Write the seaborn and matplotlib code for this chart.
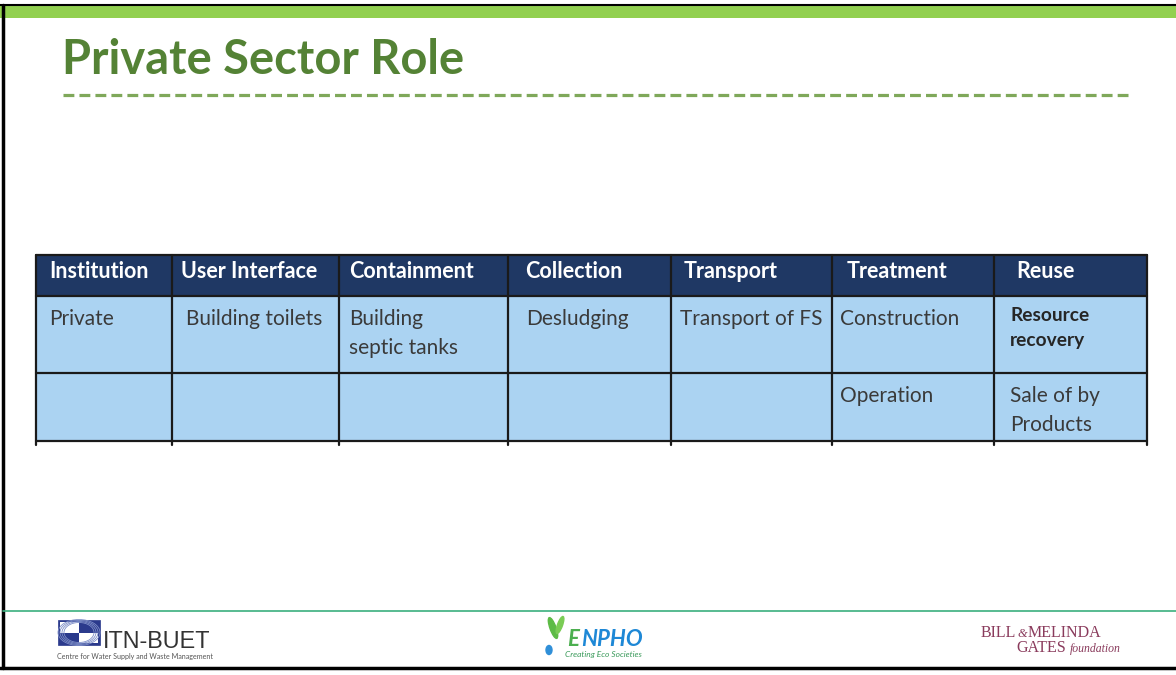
import matplotlib
matplotlib.use("Agg")
import matplotlib.pyplot as plt
from matplotlib.patches import Rectangle, Ellipse
import seaborn as sns

# ---- data ----
title = "Private Sector Role"
columns = ["Institution", "User Interface", "Containment", "Collection",
           "Transport", "Treatment", "Reuse"]
row1 = ["Private", "Building toilets", "Building\nseptic tanks", "Desludging",
        "Transport of FS", "Construction", "Resource\nrecovery"]
row2 = ["", "", "", "", "", "Operation", "Sale of by\nProducts"]
rows = [row1, row2]

# ---- layout (pixels) ----
W, H = 1176, 675
col_edges = [36, 172, 339, 508, 671, 832, 994, 1147]
head_text_x = [49, 181, 349, 525, 684, 847, 1016]
body_text_x = [49, 186, 349, 526, 680, 840, 1010]
row_edges = [255, 296, 373, 441]

sns.set_theme(style="white")
plt.rcParams["font.family"] = ["Lato", "DejaVu Sans"]

fig = plt.figure(figsize=(W / 100, H / 100), dpi=100)
ax = fig.add_axes([0, 0, 1, 1])
ax.set_xlim(0, W)
ax.set_ylim(H, 0)
ax.axis("off")

# slide frame
ax.add_patch(Rectangle((0, 6), W, 12, color="#92D050", lw=0))
ax.plot([0, W], [5, 5], color="black", lw=1.5)
ax.plot([2.5, 2.5], [5, 668], color="black", lw=2.5)
ax.plot([0, W], [667.5, 667.5], color="black", lw=2.5)

# title
ax.text(62, 60, title, fontsize=33.8, fontweight="bold", color="#548235",
        va="center", ha="left")
ax.plot([63, 1128], [95, 95], color="#7FA85A", lw=2.3,
        linestyle=(0, (3.4, 1.6)), solid_capstyle="butt", dash_capstyle="butt")

# table cells
navy = "#1F3864"
light = "#ABD3F2"
line_c = "#1a1a1a"
for i in range(len(columns)):
    x0, x1 = col_edges[i], col_edges[i + 1]
    ax.add_patch(Rectangle((x0, row_edges[0]), x1 - x0, row_edges[1] - row_edges[0],
                           color=navy, lw=0))
    ax.add_patch(Rectangle((x0, row_edges[1]), x1 - x0, row_edges[3] - row_edges[1],
                           color=light, lw=0))
    ax.text(head_text_x[i], 272, columns[i], fontsize=15.5, fontweight="bold",
            color="white", va="center", ha="left")
    for r, row in enumerate(rows):
        txt = row[i]
        if not txt:
            continue
        y_top = row_edges[r + 1]
        if txt.startswith("Resource"):
            ax.text(body_text_x[i], y_top + 11, txt, fontsize=13.8, fontweight="bold",
                    color="#262626", va="top", ha="left", linespacing=1.55)
        else:
            ax.text(body_text_x[i], y_top + 13, txt, fontsize=15,
                    color="#3a3a3a", va="top", ha="left", linespacing=1.55)

# grid lines
for x in col_edges:
    ax.plot([x, x], [row_edges[0], 445], color=line_c, lw=1.6)
for y in row_edges:
    ax.plot([col_edges[0], col_edges[-1]], [y, y], color=line_c, lw=1.6)

# footer separator
ax.plot([3, W], [611, 611], color="#3BAF7E", lw=1.2)

# ITN-BUET logo
ax.add_patch(Rectangle((58, 620), 42, 25, facecolor="#2B3A8C", edgecolor="#2B3A8C", lw=0.5))
ax.add_patch(Rectangle((60, 622), 19, 10.5, facecolor="white", lw=0))
ax.add_patch(Rectangle((79, 632.5), 19, 10.5, facecolor="white", lw=0))
for k in range(4):
    ax.add_patch(Ellipse((79, 632.5), 30 + 4 * k, 20 + 2 * k, fill=False,
                         edgecolor="#7F8FC8", lw=0.6))
ax.text(103, 641, "ITN-BUET", fontsize=16.8, color="#333333", va="center",
        ha="left", family=["Liberation Sans", "DejaVu Sans"])
ax.text(57, 657, "Centre for Water Supply and Waste Management", fontsize=5.1,
        color="#555555", va="center", ha="left")

# ENPHO logo
ax.add_patch(Ellipse((553, 628), 6, 22, angle=-20, color="#5DBB46"))
ax.add_patch(Ellipse((560, 625), 5, 18, angle=20, color="#7ACC55"))
ax.add_patch(Ellipse((549, 650), 6, 9, color="#2F8FD8"))
ax.text(567, 640, "E", fontsize=16, fontweight="bold", style="italic",
        color="#4CAF50", va="center", ha="left")
ax.text(581, 640, "NPHO", fontsize=16, fontweight="bold", style="italic",
        color="#1E88D6", va="center", ha="left")
ax.text(565, 655, "Creating Eco Societies", fontsize=6, style="italic",
        color="#3A9A5A", va="center", ha="left")

# Gates Foundation logo
serif = ["Liberation Serif", "DejaVu Serif"]
ax.text(981, 633, "BILL", fontsize=11.5, color="#8A3B5C", va="center", ha="left",
        family=serif)
ax.text(1017, 634, "&", fontsize=9, style="italic", color="#8A3B5C", va="center",
        ha="left", family=serif)
ax.text(1028, 633, "MELINDA", fontsize=11.5, color="#8A3B5C", va="center", ha="left",
        family=serif)
ax.text(1016, 648, "GATES", fontsize=11.5, color="#8A3B5C", va="center", ha="left",
        family=serif)
ax.text(1070, 649, "foundation", fontsize=8.5, style="italic", color="#8A3B5C",
        va="center", ha="left", family=serif)

fig.savefig("out.png", dpi=100, facecolor="white")
